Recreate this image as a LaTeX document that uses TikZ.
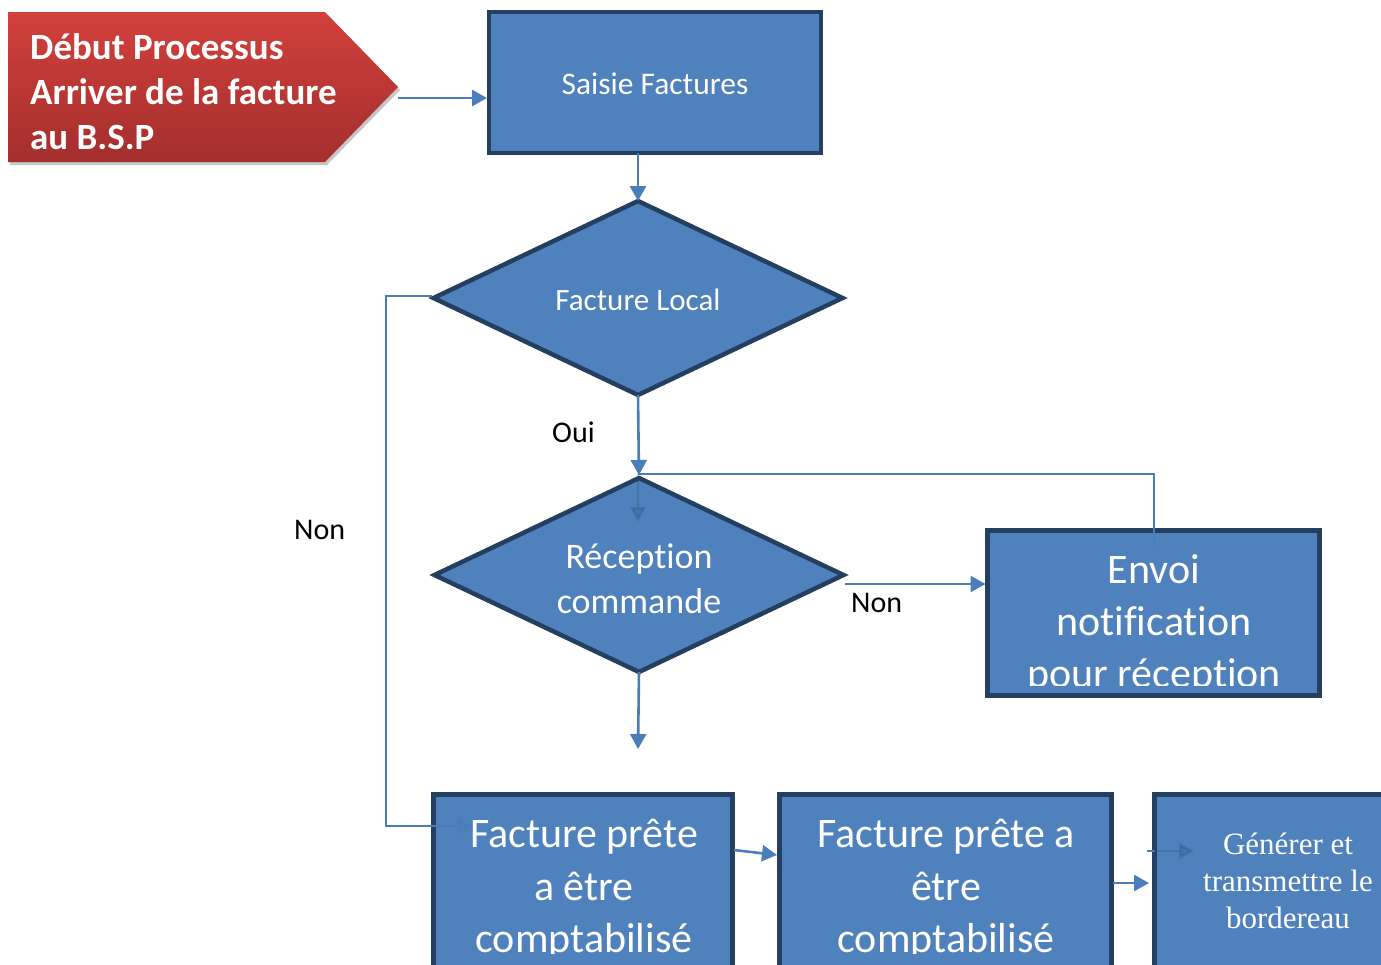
\documentclass[tikz,border=0pt]{standalone}
\usepackage{fontspec}
\setmainfont{Carlito}[Ligatures=CommonOff]
\newfontfamily\timesf{Liberation Serif}
\usetikzlibrary{arrows.meta,shapes.geometric}
\definecolor{boxfill}{HTML}{4F81BD}
\definecolor{boxline}{HTML}{243F60}
\definecolor{connc}{HTML}{4A7EBB}
\definecolor{redtop}{HTML}{D2403C}
\definecolor{redbot}{HTML}{A32F2D}
\tikzset{
  procbox/.style={draw=boxline, fill=boxfill, line width=4.5pt, inner sep=0pt, outer sep=0pt, anchor=north west},
  decbox/.style={diamond, draw=boxline, fill=boxfill, line width=4.5pt, inner sep=0pt, outer sep=0pt, aspect=2},
  conn/.style={draw=connc, line width=2.6pt, -{Triangle[length=15pt,width=16pt]}},
  connplain/.style={draw=connc, line width=2.6pt},
  faint/.style={draw=boxline, draw opacity=0.2, fill opacity=0.2, line width=2.6pt, -{Triangle[length=15pt,width=16pt]}},
  wtxt/.style={text=white, anchor=base, inner sep=0pt},
  lbl/.style={text=black, anchor=base west, inner sep=0pt, font=\fontsize{30}{36}\selectfont},
  big/.style={font=\fontsize{42}{50}\selectfont},
  mid/.style={font=\fontsize{31}{37}\selectfont},
  redtxt/.style={text=white, anchor=base west, inner sep=0pt, font=\fontsize{37}{44}\bfseries},
}
\begin{document}
\begin{tikzpicture}[x=1pt,y=-1pt]
\useasboundingbox (0,0) rectangle (1381,964);
\clip (0,0) rectangle (1381,964);

% start shape
\fill[gray!45] (10,15) -- (327,15) -- (400,90) -- (327,165) -- (10,165) -- cycle;
\shade[top color=redtop, bottom color=redbot] (8,12) -- (325,12) -- (398,87) -- (325,162) -- (8,162) -- cycle;
\node[redtxt] (s1) at (30,59) {Début Processus};
\node[redtxt] (s2) at (30,104) {Arriver de la facture};
\node[redtxt] (s3) at (30,149) {au B.S.P};
\coordinate (starttip) at (398,98);

% boxes
\node[procbox, minimum width=332pt, minimum height=141pt] (saisie) at (489,12) {};
\node[wtxt, font=\fontsize{31.5}{37}\selectfont] (saisietxt) at (655,94) {Saisie Factures};

\node[decbox, minimum width=409pt, minimum height=194pt] (d1) at (638,298) {};
\node[wtxt, mid] (d1txt) at (638,310) {Facture Local};

\node[decbox, minimum width=409pt, minimum height=194pt] (d2) at (639,575) {};
\node[wtxt, font=\fontsize{36}{44}\selectfont] (d2t1) at (639,568) {Réception};
\node[wtxt, font=\fontsize{36}{44}\selectfont] (d2t2) at (639,613) {commande};

\node[procbox, minimum width=332pt, minimum height=165pt] (envoi) at (987.5,530.5) {};
\begin{scope}
\clip (990,533) rectangle (1317,685);
\node[wtxt, big] (e1) at (1154,583) {Envoi};
\node[wtxt, big] (e2) at (1154,635) {notification};
\node[wtxt, big] (e3) at (1154,687) {pour réception};
\end{scope}

\node[procbox, minimum width=299pt, minimum height=250pt] (boxA) at (433.5,794.5) {};
\node[procbox, minimum width=332pt, minimum height=250pt] (boxB) at (779.5,794.5) {};
\node[procbox, minimum width=300pt, minimum height=250pt] (boxC) at (1154.5,794.5) {};
\begin{scope}
\clip (436,797) rectangle (1381,953);
\node[wtxt, big] (a1) at (584,847) {Facture prête};
\node[wtxt, big] (a2) at (584,900) {a être};
\node[wtxt, big] (a3) at (584,952) {comptabilisé};
\node[wtxt, big] (b1) at (946,847) {Facture prête a};
\node[wtxt, big] (b2) at (946,900) {être};
\node[wtxt, big] (b3) at (946,952) {comptabilisé};
\end{scope}
\node[wtxt, font=\timesf\fontsize{31}{38}\selectfont] (c1) at (1288,854) {Générer et};
\node[wtxt, font=\timesf\fontsize{31}{38}\selectfont] (c2) at (1288,891) {transmettre le};
\node[wtxt, font=\timesf\fontsize{31}{38}\selectfont] (c3) at (1288,928) {bordereau};

% labels
\node[lbl] (oui) at (552,442) {Oui};
\node[lbl] (non1) at (294,539) {Non};
\node[lbl] (non2) at (851,612) {Non};

% coordinates
\coordinate (loopx) at (386,296);
\coordinate (loopstart) at (432,296);
\coordinate (boxAin) at (472,826);
\coordinate (fbstart) at (1154,547);
\coordinate (fbcorner) at (1154,474);
\coordinate (fbtop) at (638,474);
\coordinate (fbend) at (638,522);
\coordinate (nonstart) at (845,584);
\coordinate (d2end) at (638,749);
\coordinate (abstart) at (734,850);
\coordinate (abend) at (777,855);
\coordinate (bcstart) at (1113,883);
\coordinate (bcend) at (1149,883);
\coordinate (cfstart) at (1147,851);
\coordinate (cfend) at (1194,851);

% connectors
\draw[conn] (starttip) -- ([xshift=-2pt]saisie.west |- starttip);
\draw[conn] (saisie.south -| d1.north) -- (d1.north);
\draw[conn] (loopstart) -- (loopx) |- (boxAin);
\draw[conn, shorten >=3pt] (d1.south) -- (d2.north);
\draw[connplain] (fbstart) -- (fbcorner) -- (fbtop);
\draw[faint] (fbtop) -- (fbend);
\draw[conn] (nonstart) -- ([xshift=-2pt]envoi.west |- nonstart);
\draw[conn] (d2.south) -- (d2end);
\draw[conn] (abstart) -- (abend);
\draw[conn] (bcstart) -- (bcend);
\draw[connplain] (cfstart) -- (boxC.west |- cfstart);
\draw[faint] (boxC.west |- cfstart) -- (cfend);
\end{tikzpicture}
\end{document}
